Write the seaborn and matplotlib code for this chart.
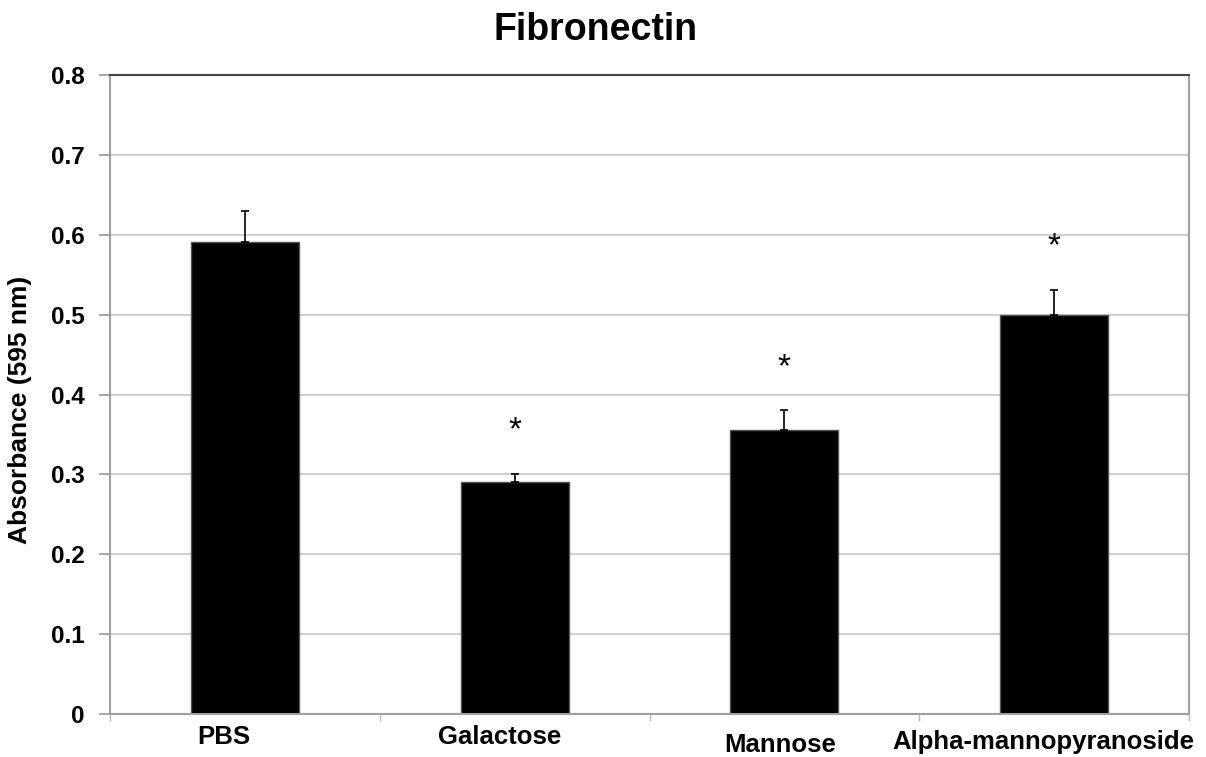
import matplotlib
matplotlib.use("Agg")
import matplotlib.pyplot as plt
import matplotlib.transforms as mtransforms
import seaborn as sns
import pandas as pd
import numpy as np

categories = ["PBS", "Galactose", "Mannose", "Alpha-mannopyranoside"]
absorbance = [0.591, 0.291, 0.355, 0.500]
error_up = [0.039, 0.010, 0.025, 0.031]
significant = [False, True, True, True]

sns.set_theme(style="white")
plt.rcParams['font.family'] = ['Liberation Sans', 'DejaVu Sans']
plt.rcParams['text.color'] = 'black'
plt.rcParams['axes.labelcolor'] = 'black'
plt.rcParams['xtick.labelcolor'] = 'black'
plt.rcParams['ytick.labelcolor'] = 'black'

fig = plt.figure(figsize=(12.06, 7.57), dpi=100)
ax = fig.add_axes([0.0912, 0.0568, 0.8948, 0.8441])

df = pd.DataFrame({"cat": categories, "val": absorbance})
sns.barplot(data=df, x="cat", y="val", color="black", width=0.4,
            edgecolor="#555555", linewidth=1.0, saturation=1, ax=ax, errorbar=None)

xs = np.arange(len(categories))
ax.errorbar(xs, absorbance, yerr=[np.zeros(len(xs)), error_up], fmt="none",
            ecolor="black", elinewidth=1.2, capsize=3.2, capthick=1.2, zorder=3)

for x, v, e, s in zip(xs, absorbance, error_up, significant):
    if s:
        ax.text(x, v + e + 0.054, "*", ha="center", va="center",
                fontsize=24, fontweight="normal", color="black")

ax.set_xlim(-0.5, len(categories) - 0.5)
ax.set_ylim(0, 0.8)
ax.set_yticks(np.arange(0, 0.81, 0.1))
ax.set_yticklabels(["0", "0.1", "0.2", "0.3", "0.4", "0.5", "0.6", "0.7", "0.8"],
                   fontsize=17.5, fontweight="bold", color="black")
ax.yaxis.grid(True, color="#d0d0d0", linewidth=1.5)
ax.set_axisbelow(True)

ax.set_xticks(xs)
ax.set_xticklabels(categories, fontsize=18.5, fontweight="bold", color="black")
ax.set_xticks(np.arange(-0.5, len(categories), 1.0), minor=True)
ax.tick_params(axis="x", which="major", length=0, pad=8)
ax.tick_params(axis="x", which="minor", length=5, color="#bbbbbb", width=1, direction="out", bottom=True)
ax.tick_params(axis="y", length=8, color="#aaaaaa", width=1.5, direction="out", left=True, pad=10)

dx = [-21, -15, -4, -11]
dy = [0, 0, -8, -5]
for lab, ddx, ddy in zip(ax.get_xticklabels(), dx, dy):
    lab.set_transform(lab.get_transform() + mtransforms.ScaledTranslation(ddx / 100, ddy / 100, fig.dpi_scale_trans))

ax.set_xlabel("")
ax.set_ylabel("Absorbance (595 nm)", fontsize=19, fontweight="bold", color="black")
ax.yaxis.set_label_coords(-0.072, 0.476)

for side in ["left", "right", "bottom"]:
    ax.spines[side].set_color("#a0a0a0")
    ax.spines[side].set_linewidth(1.5)
    ax.spines[side].set_visible(True)
ax.spines["top"].set_color("#444444")
ax.spines["top"].set_linewidth(1.5)
ax.spines["top"].set_visible(True)

fig.text(0.494, 0.960, "Fibronectin", ha="center", va="center", fontsize=27,
         fontweight="bold", color="black")

fig.savefig("out.png", dpi=100)
